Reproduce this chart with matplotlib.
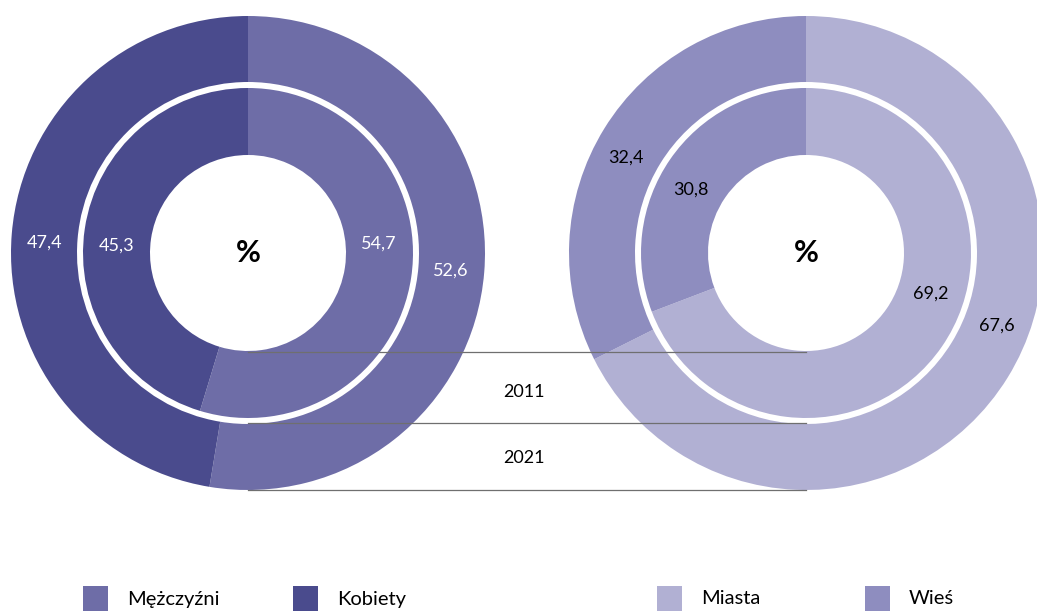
import matplotlib
matplotlib.use("Agg")
import matplotlib.pyplot as plt
import numpy as np

plt.rcParams['font.family'] = ['Lato', 'DejaVu Sans']

# dane
plec = ["Mężczyźni", "Kobiety"]
plec_2011 = [54.7, 45.3]
plec_2021 = [52.6, 47.4]
miejsce = ["Miasta", "Wieś"]
miejsce_2011 = [69.2, 30.8]
miejsce_2021 = [67.6, 32.4]
lata = ["2011", "2021"]

kolory_plec = ["#6e6da7", "#4a4b8d"]
kolory_miejsce = ["#b1b0d3", "#8e8dbf"]

W, H = 1037, 612
fig = plt.figure(figsize=(W / 100, H / 100), dpi=100)
ax = fig.add_axes([0, 0, 1, 1])

R_OUT, R_MID_OUT, R_MID_IN, R_HOLE = 237, 171, 165, 98


def fmt(v):
    return f"{v:.1f}".replace(".", ",")


def donut(cx, cy, v_in, v_out, kolory, kat_in, kat_out, kolor_txt):
    ax.pie(v_out, radius=R_OUT, center=(cx, cy), colors=kolory, startangle=90,
           counterclock=False, wedgeprops=dict(width=R_OUT - R_MID_OUT, edgecolor="none"))
    ax.pie(v_in, radius=R_MID_IN, center=(cx, cy), colors=kolory, startangle=90,
           counterclock=False, wedgeprops=dict(width=R_MID_IN - R_HOLE, edgecolor="none"))
    r_o = (R_OUT + R_MID_OUT) / 2
    r_i = (R_MID_IN + R_HOLE) / 2
    for v, a in zip(v_out, kat_out):
        t = np.deg2rad(a)
        ax.text(cx + r_o * np.cos(t), cy + r_o * np.sin(t), fmt(v), color=kolor_txt,
                fontsize=13, ha="center", va="center")
    for v, a in zip(v_in, kat_in):
        t = np.deg2rad(a)
        ax.text(cx + r_i * np.cos(t), cy + r_i * np.sin(t), fmt(v), color=kolor_txt,
                fontsize=13, ha="center", va="center")
    ax.text(cx, cy, "%", fontsize=22, fontweight="bold", ha="center", va="center")


cy = H - 253
donut(248, cy, plec_2011, plec_2021, kolory_plec, [4, 177], [-5, 177], "white")
donut(806, cy, miejsce_2011, miejsce_2021, kolory_miejsce, [-18, 151], [-21, 152], "black")

# linie z latami
for y in [H - 352, H - 423, H - 490]:
    ax.plot([248, 806], [y, y], color="#6f6f6f", lw=0.9, zorder=5)
ax.text(524, H - 392, lata[0], fontsize=13, ha="center", va="center")
ax.text(524, H - 458, lata[1], fontsize=13, ha="center", va="center")

# legenda
leg = [(83, plec[0], kolory_plec[0]), (293, plec[1], kolory_plec[1]),
       (657, miejsce[0], kolory_miejsce[0]), (865, miejsce[1], kolory_miejsce[1])]
for x, nazwa, k in leg:
    ax.add_patch(plt.Rectangle((x, H - 611), 25, 25, color=k, lw=0))
    ax.text(x + 44, H - 599, nazwa, fontsize=14.5, ha="left", va="center")

ax.set_xlim(0, W)
ax.set_ylim(0, H)
ax.set_aspect("equal")
ax.axis("off")

fig.savefig("out.png", dpi=100)
